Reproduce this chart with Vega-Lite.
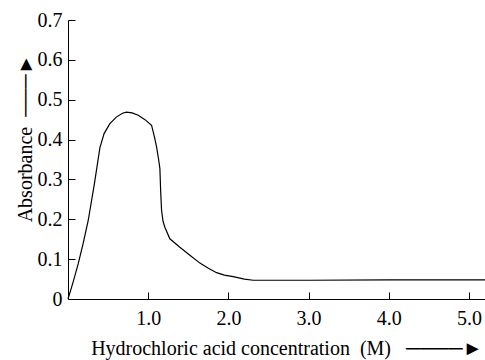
{
  "$schema": "https://vega.github.io/schema/vega-lite/v6.json",
  "width": 417,
  "height": 279,
  "autosize": {"type": "none"},
  "padding": {"left": 68, "top": 20, "right": 0, "bottom": 61},
  "background": "white",
  "config": {"view": {"stroke": null}, "font": "Liberation Serif"},
  "data": {"values": [
    {"c": 0, "a": 0},
    {"c": 0.06, "a": 0.04},
    {"c": 0.127, "a": 0.088},
    {"c": 0.19, "a": 0.14},
    {"c": 0.252, "a": 0.197},
    {"c": 0.33, "a": 0.29},
    {"c": 0.398, "a": 0.38},
    {"c": 0.45, "a": 0.415},
    {"c": 0.522, "a": 0.44},
    {"c": 0.606, "a": 0.457},
    {"c": 0.68, "a": 0.466},
    {"c": 0.73, "a": 0.469},
    {"c": 0.8, "a": 0.467},
    {"c": 0.876, "a": 0.461},
    {"c": 0.96, "a": 0.45},
    {"c": 1.042, "a": 0.436},
    {"c": 1.08, "a": 0.405},
    {"c": 1.105, "a": 0.381},
    {"c": 1.13, "a": 0.35},
    {"c": 1.146, "a": 0.327},
    {"c": 1.155, "a": 0.273},
    {"c": 1.167, "a": 0.222},
    {"c": 1.185, "a": 0.195},
    {"c": 1.208, "a": 0.18},
    {"c": 1.27, "a": 0.151},
    {"c": 1.395, "a": 0.13},
    {"c": 1.52, "a": 0.11},
    {"c": 1.645, "a": 0.09},
    {"c": 1.75, "a": 0.077},
    {"c": 1.853, "a": 0.066},
    {"c": 1.95, "a": 0.06},
    {"c": 2.06, "a": 0.056},
    {"c": 2.2, "a": 0.05},
    {"c": 2.31, "a": 0.047},
    {"c": 3.0, "a": 0.047},
    {"c": 4.0, "a": 0.048},
    {"c": 5.2, "a": 0.048}
  ]},
  "mark": {"type": "line", "color": "black", "strokeWidth": 1.2},
  "encoding": {
    "x": {
      "field": "c", "type": "quantitative",
      "scale": {"domain": [0, 5.2], "nice": false},
      "axis": {
        "values": [1, 2, 3, 4, 5], "format": ".1f", "grid": false,
        "tickSize": -7, "tickColor": "black", "domainColor": "black",
        "labelColor": "black", "labelFontSize": 20, "labelFont": "Liberation Serif", "labelPadding": 16,
        "title": "Hydrochloric acid concentration\u00a0\u00a0(M)\u00a0\u00a0\u00a0────►",
        "titleFont": "Liberation Serif", "titleFontSize": 20, "titleFontWeight": "normal", "titleColor": "black",
        "titleAnchor": "end", "titleAlign": "right", "titleBaseline": "alphabetic", "titleX": 414, "titleY": 55
      }
    },
    "y": {
      "field": "a", "type": "quantitative",
      "scale": {"domain": [0, 0.7], "nice": false},
      "axis": {
        "values": [0, 0.1, 0.2, 0.3, 0.4, 0.5, 0.6, 0.7], "grid": false,
        "labelExpr": "datum.value == 0 ? '0' : format(datum.value, '.1f')",
        "tickSize": -7, "tickColor": "black", "domainColor": "black",
        "labelColor": "black", "labelFontSize": 20, "labelFont": "Liberation Serif", "labelPadding": 13,
        "title": "Absorbance\u00a0\u00a0───►",
        "titleFont": "Liberation Serif", "titleFontSize": 20, "titleFontWeight": "normal", "titleColor": "black",
        "titleAngle": -90, "titleAnchor": "end", "titleAlign": "right", "titleBaseline": "alphabetic", "titleX": -37, "titleY": 34
      }
    }
  }
}
